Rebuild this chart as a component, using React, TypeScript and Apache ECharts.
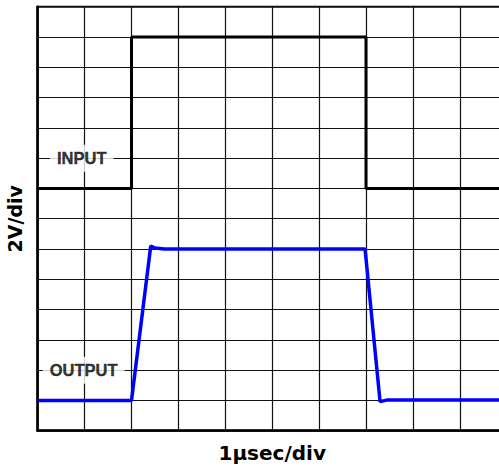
import React, { useEffect, useRef } from "react";
import * as echarts from "echarts";

// x in divisions (1 µs/div), y in divisions (2 V/div)
const inputWave: [number, number][] = [
  [0, 8], [2, 8], [2, 13], [7, 13], [7, 8], [10, 8],
];
const outputWave: [number, number][] = [
  [0, 1], [2, 1], [2.41, 6.1], [2.5, 6.03], [2.7, 6.0], [6.98, 6.0],
  [7.3, 0.96], [7.44, 1.01], [10, 1.01],
];
const traceLabels: [number, number, string][] = [
  [0.94, 9, "INPUT"],
  [0.98, 2, "OUTPUT"],
];
const xDivisions = 10;
const yDivisions = 14;
const xAxisName = "1\u00b5sec/div";
const yAxisName = "2V/div";

export default function App() {
  const ref = useRef<HTMLDivElement>(null);
  useEffect(() => {
    if (!ref.current) return;
    const chart = echarts.init(ref.current, null, { renderer: "svg" });
    const font = "Liberation Sans, Arial, Helvetica, sans-serif";
    const nameFont = "DejaVu Sans, Liberation Sans, Arial, sans-serif";
    chart.setOption({
      animation: false,
      backgroundColor: "#ffffff",
      grid: {
        left: 37.7,
        top: 6.7,
        right: -7.7,
        bottom: 35.3,
        containLabel: false,
        outerBoundsMode: "none",
        show: true,
        borderColor: "#000",
        borderWidth: 2,
        backgroundColor: "transparent",
      },
      xAxis: {
        type: "value",
        min: 0,
        max: xDivisions,
        interval: 1,
        axisLabel: { show: false },
        axisTick: { show: false },
        axisLine: { show: true, lineStyle: { color: "#000", width: 2.5 } },
        splitLine: { show: true, lineStyle: { color: "#111", width: 1.2 } },
        name: xAxisName,
        nameLocation: "middle",
        nameGap: 12,
        nameTextStyle: { fontFamily: nameFont, fontWeight: "bold", fontSize: 20, color: "#000" },
      },
      yAxis: {
        type: "value",
        min: 0,
        max: yDivisions,
        interval: 1,
        axisLabel: { show: false },
        axisTick: { show: false },
        axisLine: { show: true, lineStyle: { color: "#000", width: 2.5 } },
        splitLine: { show: true, lineStyle: { color: "#111", width: 1.2 } },
        name: yAxisName,
        nameLocation: "middle",
        nameGap: 13,
        nameRotate: 90,
        nameTextStyle: { fontFamily: nameFont, fontWeight: "bold", fontSize: 19, color: "#000" },
      },
      series: [
        {
          type: "line",
          data: inputWave,
          showSymbol: false,
          lineStyle: { color: "#000", width: 3 },
          z: 3,
        },
        {
          type: "line",
          data: outputWave,
          showSymbol: false,
          lineStyle: { color: "#0000ff", width: 3.5 },
          z: 4,
        },
        {
          type: "scatter",
          data: traceLabels,
          symbolSize: 0,
          z: 5,
          label: {
            show: true,
            position: "inside",
            formatter: (p: any) => p.data[2],
            fontFamily: font,
            fontWeight: "bold",
            fontSize: 16.5,
            color: "#000",
            textBorderColor: "#000",
            textBorderWidth: 0.4,
            backgroundColor: "#fff",
            padding: [5, 7, 5, 7],
          },
        },
      ],
    });
    return () => chart.dispose();
  }, []);
  return (
    <div
      ref={ref}
      style={{ position: "absolute", left: 0, top: 0, width: 499, height: 466 }}
    />
  );
}
